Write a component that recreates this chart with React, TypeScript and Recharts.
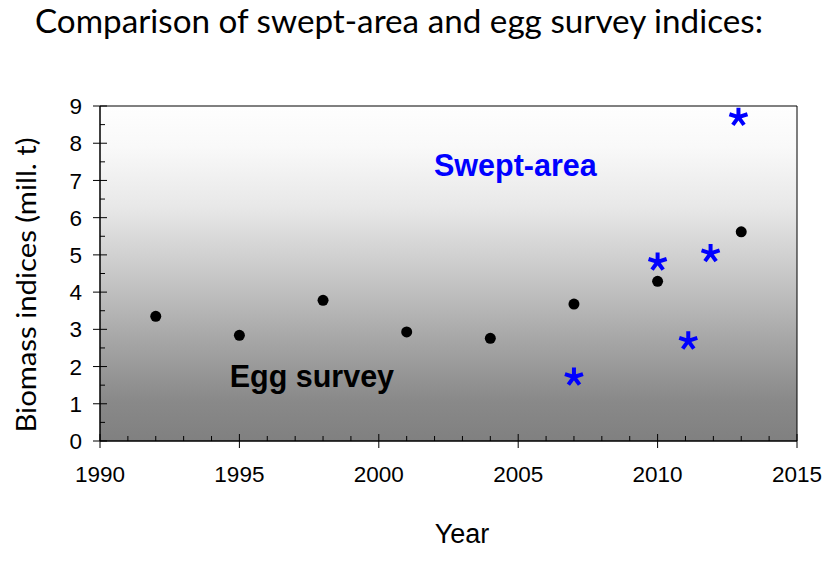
import React from "react";
import {
  ScatterChart, Scatter, XAxis, YAxis, ReferenceArea, ReferenceDot,
} from "recharts";

const eggYears = [1992, 1995, 1998, 2001, 2004, 2007, 2010, 2013];
const eggValues = [3.35, 2.84, 3.78, 2.93, 2.76, 3.68, 4.29, 5.62];

const sweptYears = [2007, 2010, 2011.1, 2011.9, 2012.9];
const sweptValues = [1.72, 4.81, 2.69, 5.04, 8.7];

const yearTicks = Array.from({ length: 26 }, (_, i) => 1990 + i);
const valueTicks = Array.from({ length: 19 }, (_, i) => i * 0.5);

const eggData = eggYears.map((year, i) => ({ year, value: eggValues[i] }));
const sweptData = sweptYears.map((year, i) => ({ year, value: sweptValues[i] }));

const W = 835;
const H = 569;
const tickFont = "'Liberation Sans', Arial, sans-serif";
const titleFont = "Lato, 'Open Sans', sans-serif";

function XTick(props: any) {
  const { x, y, payload } = props;
  const major = payload.value % 5 === 0;
  return (
    <g>
      <line x1={x} x2={x} y1={major ? y + 7 : y} y2={major ? y - 7 : y - 5} stroke="#000" strokeWidth={1} />
      {major && (
        <text x={x} y={y + 41} textAnchor="middle" fontSize={22.5} fontFamily={tickFont} fill="#000">
          {payload.value}
        </text>
      )}
    </g>
  );
}

function YTick(props: any) {
  const { x, y, payload } = props;
  const major = Number.isInteger(payload.value);
  return (
    <g>
      <line x1={major ? x - 7 : x} x2={major ? x + 7 : x + 5} y1={y} y2={y} stroke="#000" strokeWidth={1} />
      {major && (
        <text x={x - 18} y={y} dy="0.36em" textAnchor="end" fontSize={22.5} fontFamily={tickFont} fill="#000">
          {payload.value}
        </text>
      )}
    </g>
  );
}

function Dot(props: any) {
  const { cx, cy } = props;
  return <circle cx={cx} cy={cy} r={5.5} fill="#000" />;
}

function Star(props: any) {
  const { cx, cy } = props;
  const r = 9.5;
  const arms = [-90, -18, 54, 126, 198].map((a) => {
    const t = (a * Math.PI) / 180;
    return `M${cx},${cy} L${cx + r * Math.cos(t)},${cy + r * Math.sin(t)}`;
  });
  return <path d={arms.join(" ")} stroke="#0000ff" strokeWidth={4} fill="none" />;
}

export default function App() {
  return (
    <div style={{ position: "absolute", left: 0, top: 0, width: W, height: H, background: "#fff" }}>
      <ScatterChart width={W} height={H} margin={{ top: 106, right: 38, left: 40, bottom: 98 }}>
        <defs>
          <linearGradient id="plotBg" x1="0" y1="0" x2="0" y2="1">
            <stop offset="0%" stopColor="#fefefe" />
            <stop offset="12%" stopColor="#f9f9f9" />
            <stop offset="30%" stopColor="#e8e8e8" />
            <stop offset="50%" stopColor="#c8c8c8" />
            <stop offset="70%" stopColor="#a6a6a6" />
            <stop offset="88%" stopColor="#898989" />
            <stop offset="100%" stopColor="#808080" />
          </linearGradient>
        </defs>
        <XAxis
          type="number"
          dataKey="year"
          domain={[1990, 2015]}
          ticks={yearTicks}
          interval={0}
          height={30}
          tickLine={false}
          tickSize={0}
          tickMargin={0}
          axisLine={{ stroke: "#000" }}
          tick={<XTick />}
          allowDataOverflow
        />
        <YAxis
          type="number"
          dataKey="value"
          domain={[0, 9]}
          ticks={valueTicks}
          interval={0}
          width={60}
          tickLine={false}
          tickSize={0}
          tickMargin={0}
          axisLine={{ stroke: "#000" }}
          tick={<YTick />}
          allowDataOverflow
        />
        <ReferenceArea x1={1990} x2={2015} y1={0} y2={9} fill="url(#plotBg)" fillOpacity={1} stroke="#000" strokeWidth={1} />
        <ReferenceDot
          x={2004.9}
          y={7.41}
          r={0}
          fill="none"
          stroke="none"
          label={{ value: "Swept-area", position: "center", fill: "#0000ff", fontSize: 30.5, fontWeight: "bold", fontFamily: tickFont }}
        />
        <ReferenceDot
          x={1997.6}
          y={1.74}
          r={0}
          fill="none"
          stroke="none"
          label={{ value: "Egg survey", position: "center", fill: "#000", fontSize: 30.5, fontWeight: "bold", fontFamily: tickFont }}
        />
        <Scatter name="Egg survey" data={eggData} shape={<Dot />} isAnimationActive={false} />
        <Scatter name="Swept-area" data={sweptData} shape={<Star />} isAnimationActive={false} />
      </ScatterChart>
      <svg width={W} height={H} style={{ position: "absolute", left: 0, top: 0, pointerEvents: "none" }}>
        <text x={35} y={33} fontSize={33} fontFamily={titleFont} fill="#000" textLength={728} lengthAdjust="spacingAndGlyphs">
          Comparison of swept-area and egg survey indices:
        </text>
        <text
          x={0}
          y={0}
          transform="translate(36,285) rotate(-90)"
          textAnchor="middle"
          fontSize={26}
          fontFamily={titleFont}
          fill="#000"
          textLength={295}
          lengthAdjust="spacingAndGlyphs"
        >
          Biomass indices (mill. t)
        </text>
        <text x={462} y={543} textAnchor="middle" fontSize={27} fontFamily={tickFont} fill="#000">
          Year
        </text>
      </svg>
    </div>
  );
}
